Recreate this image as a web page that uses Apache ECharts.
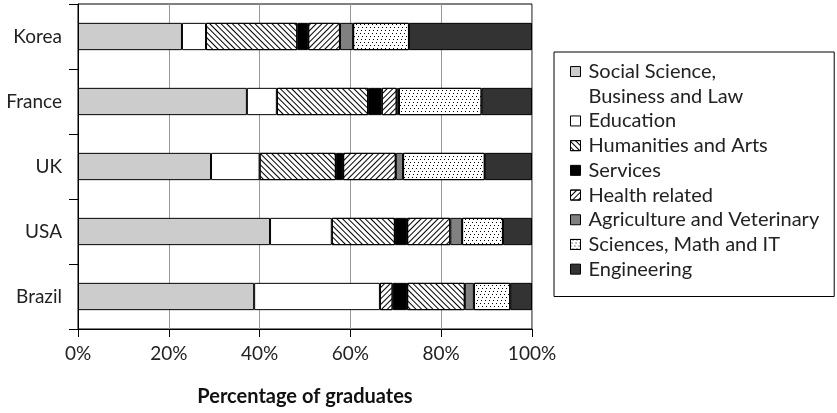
<!DOCTYPE html>
<html><head><meta charset="utf-8">
<script src="https://cdn.jsdelivr.net/npm/echarts@6/dist/echarts.min.js"></script>
<style>html,body{margin:0;padding:0;background:#fff}#c{width:837px;height:413px}</style>
</head><body><div id="c"></div>
<script>
// ---- data ----
const countries = ['Brazil', 'USA', 'UK', 'France', 'Korea'];
const fields = ['Social Science,\nBusiness and Law', 'Education', 'Humanities and Arts', 'Services',
  'Health related', 'Agriculture and Veterinary', 'Sciences, Math and IT', 'Engineering'];
const socialScience = [38.8, 42.3, 29.3, 37.2, 22.9];
const education     = [27.7, 13.6, 10.7,  6.6,  5.3];
const humanities    = [ 2.8, 13.9, 16.8, 20.1, 20.1];
const services      = [ 3.2,  2.7,  1.6,  3.0,  2.4];
const health        = [12.7,  9.5, 11.6,  3.3,  7.0];
const agriculture   = [ 2.0,  2.6,  1.6,  0.5,  2.9];
const sciences      = [ 8.0,  9.0, 18.0, 18.2, 12.3];
const engineering   = [ 4.8,  6.4, 10.4, 11.1, 27.1];
const xTicks = [0, 20, 40, 60, 80, 100];

const values = [socialScience, education, humanities, services, health, agriculture, sciences, engineering];

// ---- styles ----
const hatchBack = {symbol: 'rect', symbolSize: 1, dashArrayX: [1, 0], dashArrayY: [1, 3], rotation: Math.PI / 4, color: '#000'};
const hatchFwd  = {symbol: 'rect', symbolSize: 1, dashArrayX: [1, 0], dashArrayY: [1, 3], rotation: -Math.PI / 4, color: '#000'};
const dots      = {symbol: 'rect', symbolSize: 1, dashArrayX: [[1, 3], [0, 2, 1, 1], [0, 1, 1, 2]], dashArrayY: [1, 1.4], color: '#000'};
const fills = ['#cccccc', '#ffffff', '#ffffff', '#000000', '#ffffff', '#808080', '#ffffff', '#333333'];
const decals = [null, null, hatchBack, null, hatchFwd, null, dots, null];
// in the reference, Brazil's humanities / health segments carry each other's hatch
const swapped = {2: hatchFwd, 4: hatchBack};

const L = 24.7;
const series = fields.map((name, i) => ({
  name: name,
  type: 'bar',
  stack: 'total',
  barCategoryGap: '58%',
  itemStyle: Object.assign({color: fills[i], borderColor: '#000', borderWidth: 1}, decals[i] ? {decal: decals[i]} : {}),
  data: values[i].map((v, k) => (countries[k] === 'Brazil' && swapped[i])
    ? {value: v, itemStyle: {decal: swapped[i]}} : v)
}));

const chart = echarts.init(document.getElementById('c'));
chart.setOption({
  animation: false,
  textStyle: {fontFamily: 'Lato'},
  grid: {left: 78, right: 305, top: 4, bottom: 84, show: true, borderColor: '#000', borderWidth: 1, backgroundColor: 'transparent'},
  legend: {
    orient: 'vertical', left: 554, top: 52,
    padding: [-17.5, 15, 15, 16],
    borderColor: '#000', borderWidth: 1,
    itemWidth: 10, itemHeight: 10, itemGap: 0, icon: 'rect',
    itemStyle: {borderColor: '#000', borderWidth: 1},
    textStyle: {fontSize: 20, color: '#222', lineHeight: L, padding: [0, 0, 0, 3]},
    // leading blank line keeps the icon level with the first line of the two-line entry
    formatter: name => name.indexOf('\n') >= 0 ? '\n' + name : name,
    data: fields
  },
  xAxis: {
    type: 'value', min: xTicks[0], max: xTicks[xTicks.length - 1], interval: xTicks[1] - xTicks[0],
    axisLine: {show: true, lineStyle: {color: '#000'}},
    axisTick: {show: true, length: 8, lineStyle: {color: '#000'}},
    splitLine: {show: true, lineStyle: {color: '#999'}},
    axisLabel: {formatter: '{value}%', fontSize: 19, color: '#222', margin: 15},
    name: 'Percentage of graduates', nameLocation: 'middle', nameGap: 58,
    nameTextStyle: {fontWeight: 'bold', fontSize: 20, color: '#111'}
  },
  yAxis: {
    type: 'category', data: countries,
    axisLine: {show: true, lineStyle: {color: '#000'}},
    axisTick: {show: true, length: 9, lineStyle: {color: '#000'}},
    axisLabel: {fontSize: 19, color: '#222', margin: 16}
  },
  series: series
});
</script></body></html>
